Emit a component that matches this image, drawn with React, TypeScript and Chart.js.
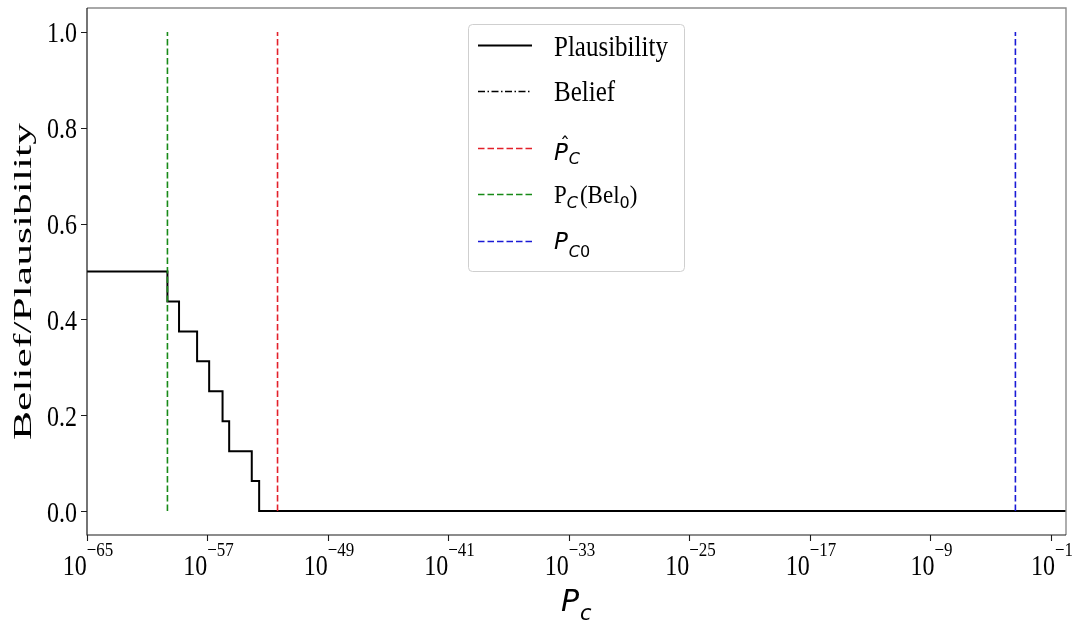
import React, { useEffect, useRef } from "react";
import { Chart, registerables } from "chart.js";

Chart.register(...registerables);

const SERIF = '"Liberation Serif", "Times New Roman", serif';
const SANS = '"DejaVu Sans", sans-serif';

// Plausibility step curve: value holds from each breakpoint to the next one
const plausibilityX = [1e-65, 2.19e-60, 1.29e-59, 2.04e-58, 1.29e-57, 1.0e-56, 2.75e-56, 8.7e-55, 2.69e-54, 1];
const plausibilityY = [0.5, 0.4375, 0.375, 0.3125, 0.25, 0.1875, 0.125, 0.0625, 0, 0];

// Belief curve (zero, lying under the plausibility floor)
const beliefX = [2.69e-54, 1];
const beliefY = [0, 0];

// Reference collision probabilities drawn as vertical markers
const pcHat = 4.47e-53;
const pcBel0 = 2.19e-60;
const pc0 = 4.37e-4;
const markerY = [0, 1];

// Axis ticks
const xTickExponents = [-65, -57, -49, -41, -33, -25, -17, -9, -1];
const yTicks = [0, 0.2, 0.4, 0.6, 0.8, 1.0];

const RED = "#e3202a";
const GREEN = "#178a17";
const BLUE = "#1a1ad6";

const DASH = [6.5, 3];
const DASH_DOT = [7, 2.5, 1.5, 2.5];

type Run = { text: string; font: string; dy?: number; sy?: number; dx?: number };

function drawRuns(ctx: CanvasRenderingContext2D, x: number, y: number, runs: Run[]) {
  let cx = x;
  ctx.textAlign = "left";
  ctx.textBaseline = "alphabetic";
  for (const r of runs) {
    ctx.font = r.font;
    cx += r.dx || 0;
    ctx.save();
    ctx.translate(cx, y + (r.dy || 0));
    ctx.scale(1, r.sy || 1);
    ctx.fillText(r.text, 0, 0);
    ctx.restore();
    cx += ctx.measureText(r.text).width;
  }
  return cx;
}

const decorations = {
  id: "decorations",
  afterDraw(chart: any) {
    const { ctx, chartArea, scales } = chart;
    const { left, right, top, bottom } = chartArea;
    const xs = scales.x;
    const ys = scales.y;
    ctx.save();

    // frame
    ctx.lineCap = "butt";
    ctx.strokeStyle = "#8c8c8c";
    ctx.lineWidth = 1.4;
    ctx.beginPath();
    ctx.moveTo(left, top);
    ctx.lineTo(right, top);
    ctx.lineTo(right, bottom);
    ctx.stroke();
    ctx.strokeStyle = "#1a1a1a";
    ctx.lineWidth = 1.2;
    ctx.beginPath();
    ctx.moveTo(left, top);
    ctx.lineTo(left, bottom);
    ctx.lineTo(right, bottom);
    ctx.stroke();

    // tick marks
    ctx.lineWidth = 1.1;
    ctx.beginPath();
    for (const v of yTicks) {
      const py = Math.round(ys.getPixelForValue(v)) + 0.5;
      ctx.moveTo(left - 6, py);
      ctx.lineTo(left, py);
    }
    for (const e of xTickExponents) {
      const px = Math.round(xs.getPixelForValue(Math.pow(10, e))) + 0.5;
      ctx.moveTo(px, bottom);
      ctx.lineTo(px, bottom + 6);
    }
    ctx.stroke();

    ctx.fillStyle = "#000";

    // y tick labels
    ctx.font = `24px ${SERIF}`;
    for (const v of yTicks) {
      const py = ys.getPixelForValue(v);
      const label = v.toFixed(1);
      const w = ctx.measureText(label).width;
      drawRuns(ctx, left - 10 - w, py + 10.5, [{ text: label, font: `24px ${SERIF}`, sy: 1.2 }]);
      ctx.font = `24px ${SERIF}`;
    }

    // x tick labels: 10 with superscript exponent
    for (const e of xTickExponents) {
      const px = xs.getPixelForValue(Math.pow(10, e));
      const base = "10";
      const exp = "\u2212" + Math.abs(e);
      ctx.font = `24px ${SERIF}`;
      const wB = ctx.measureText(base).width;
      ctx.font = `17px ${SERIF}`;
      const wE = ctx.measureText(exp).width;
      const start = px - (wB + wE) / 2 + 1;
      drawRuns(ctx, start, 575, [{ text: base, font: `24px ${SERIF}`, sy: 1.2 }]);
      drawRuns(ctx, start + wB, 556, [{ text: exp, font: `17px ${SERIF}`, sy: 1.15 }]);
    }

    // y axis title
    {
      const title = "Belief/Plausibility";
      ctx.font = `25px ${SERIF}`;
      const w = ctx.measureText(title).width;
      const target = 317;
      ctx.save();
      ctx.translate(31, 281.5);
      ctx.rotate(-Math.PI / 2);
      ctx.scale(target / w, 1);
      ctx.textAlign = "center";
      ctx.textBaseline = "alphabetic";
      ctx.fillText(title, 0, 0);
      ctx.restore();
    }

    // x axis title: P_c
    drawRuns(ctx, 561, 611, [
      { text: "P", font: `italic 30px ${SANS}` },
      { text: "c", font: `italic 21px ${SANS}`, dy: 9, dx: 1 },
    ]);

    // legend
    const bx = 468.5, by = 24.5, bw = 216, bh = 247;
    ctx.beginPath();
    if ((ctx as any).roundRect) (ctx as any).roundRect(bx, by, bw, bh, 4);
    else ctx.rect(bx, by, bw, bh);
    ctx.fillStyle = "rgba(255,255,255,0.85)";
    ctx.fill();
    ctx.strokeStyle = "#cfcfcf";
    ctx.lineWidth = 1;
    ctx.stroke();

    const sx0 = 478, sx1 = 532, tx = 554;
    const sample = (y: number, color: string, dash: number[], lw: number) => {
      ctx.save();
      ctx.strokeStyle = color;
      ctx.lineWidth = lw;
      ctx.setLineDash(dash);
      ctx.beginPath();
      ctx.moveTo(sx0, y);
      ctx.lineTo(sx1, y);
      ctx.stroke();
      ctx.restore();
    };
    sample(45.5, "#000", [], 2);
    sample(91.5, "#000", DASH_DOT, 1.6);
    sample(148.5, RED, DASH, 1.6);
    sample(194.5, GREEN, DASH, 1.6);
    sample(241.5, BLUE, DASH, 1.6);

    ctx.fillStyle = "#000";
    drawRuns(ctx, tx, 56, [{ text: "Plausibility", font: `25px ${SERIF}`, sy: 1.17 }]);
    drawRuns(ctx, tx, 101, [{ text: "Belief", font: `25px ${SERIF}`, sy: 1.17 }]);

    // P-hat_C
    ctx.font = `italic 23px ${SANS}`;
    const wP = ctx.measureText("P").width;
    drawRuns(ctx, tx, 160, [
      { text: "P", font: `italic 23px ${SANS}` },
      { text: "C", font: `italic 16px ${SANS}`, dy: 4, dx: 1 },
    ]);
    ctx.save();
    ctx.font = `20px ${SANS}`;
    ctx.textAlign = "center";
    ctx.fillText("\u02C6", tx + wP / 2 + 4, 151);
    ctx.restore();

    // P_C(Bel_0)
    drawRuns(ctx, tx, 203, [
      { text: "P", font: `23px ${SERIF}`, sy: 1.08 },
      { text: "C", font: `italic 16px ${SANS}`, dy: 5 },
      { text: "(Bel", font: `23px ${SERIF}`, sy: 1.08, dx: 2 },
      { text: "0", font: `16px ${SANS}`, dy: 5 },
      { text: ")", font: `23px ${SERIF}`, sy: 1.08 },
    ]);

    // P_C0
    drawRuns(ctx, tx, 249, [
      { text: "P", font: `italic 23px ${SANS}` },
      { text: "C", font: `italic 16px ${SANS}`, dy: 8, dx: 1 },
      { text: "0", font: `16px ${SANS}`, dy: 8 },
    ]);

    ctx.restore();
  },
};

export default function App() {
  const ref = useRef<HTMLCanvasElement>(null);

  useEffect(() => {
    const canvas = ref.current;
    if (!canvas) return;
    const toPoints = (xv: number[], yv: number[]) => xv.map((x, i) => ({ x, y: yv[i] }));
    const marker = (v: number) => markerY.map((y) => ({ x: v, y }));

    const chart = new Chart(canvas, {
      type: "line",
      data: {
        datasets: [
          {
            label: "P̂_C",
            data: marker(pcHat),
            borderColor: RED,
            borderWidth: 1.6,
            borderDash: DASH,
            pointRadius: 0,
            order: 1,
          },
          {
            label: "P_C(Bel_0)",
            data: marker(pcBel0),
            borderColor: GREEN,
            borderWidth: 1.6,
            borderDash: DASH,
            pointRadius: 0,
            order: 1,
          },
          {
            label: "P_C0",
            data: marker(pc0),
            borderColor: BLUE,
            borderWidth: 1.6,
            borderDash: DASH,
            pointRadius: 0,
            order: 1,
          },
          {
            label: "Belief",
            data: toPoints(beliefX, beliefY),
            borderColor: "#000",
            borderWidth: 1.6,
            borderDash: DASH_DOT,
            pointRadius: 0,
            order: 2,
          },
          {
            label: "Plausibility",
            data: toPoints(plausibilityX, plausibilityY),
            borderColor: "#000",
            borderWidth: 2,
            stepped: "before",
            pointRadius: 0,
            order: 3,
          },
        ] as any,
      },
      options: {
        responsive: false,
        animation: false,
        events: [],
        layout: { padding: { top: 8, right: 14, left: 0, bottom: 0 } },
        plugins: { legend: { display: false }, tooltip: { enabled: false } },
        scales: {
          x: {
            type: "logarithmic",
            min: 1e-65,
            max: 1,
            grid: { display: false },
            border: { display: false },
            ticks: { display: false, autoSkip: false },
            afterBuildTicks: (s: any) => {
              s.ticks = xTickExponents.map((e) => ({ value: Math.pow(10, e) }));
            },
            afterFit: (s: any) => {
              s.height = 94;
            },
          },
          y: {
            type: "linear",
            min: -0.05,
            max: 1.05,
            grid: { display: false },
            border: { display: false },
            ticks: { display: false },
            afterBuildTicks: (s: any) => {
              s.ticks = yTicks.map((v) => ({ value: v }));
            },
            afterFit: (s: any) => {
              s.width = 87;
            },
          },
        },
      } as any,
      plugins: [decorations],
    });
    return () => chart.destroy();
  }, []);

  return (
    <div style={{ position: "absolute", left: 0, top: 0, width: 1080, height: 629, background: "#fff" }}>
      <canvas ref={ref} width={1080} height={629} style={{ display: "block", width: 1080, height: 629 }} />
    </div>
  );
}
